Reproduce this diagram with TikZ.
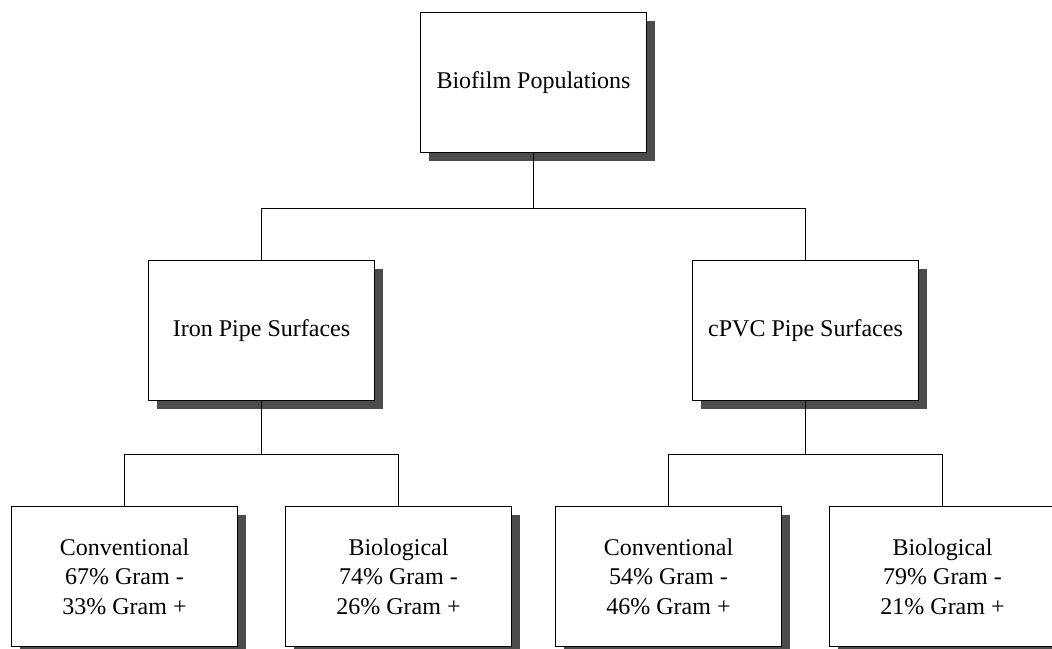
\documentclass[tikz,border=0pt]{standalone}
\usepackage{fontspec}
\setmainfont{Liberation Serif}
\usetikzlibrary{positioning,shadows}

\newcommand\boxfont{\fontsize{12}{14.8}\selectfont}

\begin{document}
\begin{tikzpicture}[x=0.5pt,y=-0.5pt,on grid,
    box/.style={draw,line width=0.8pt,fill=white,align=center,font=\boxfont,
      minimum width=113pt,minimum height=70pt,
      drop shadow={shadow xshift=4pt,shadow yshift=-4pt,fill=black!70,opacity=1}},
    link/.style={draw,line width=0.7pt}]
   \useasboundingbox (0,0) rectangle (1052,648);
   \clip (0,0) rectangle (1052,648);

   \node[box] (bio) at (533.5,82.5) {Biofilm Populations};
   \node[box] (iron) [below left=124pt and 136pt of bio] {Iron Pipe Surfaces};
   \node[box] (cpvc) [below right=124pt and 136pt of bio] {cPVC Pipe Surfaces};

   \node[box] (iron_conv) [below left=123pt and 68.5pt of iron] {Conventional\\67\% Gram -\\33\% Gram +};
   \node[box] (iron_bio) [below right=123pt and 68.5pt of iron] {Biological\\74\% Gram -\\26\% Gram +};
   \node[box] (cpvc_conv) [below left=123pt and 68.5pt of cpvc] {Conventional\\54\% Gram -\\46\% Gram +};
   \node[box] (cpvc_bio) [below right=123pt and 68.5pt of cpvc] {Biological\\79\% Gram -\\21\% Gram +};

   % tree connectors
   \coordinate[below=27.5pt of bio.south] (bio_split);
   \coordinate[below=26.5pt of iron.south] (iron_split);
   \coordinate[below=26.5pt of cpvc.south] (cpvc_split);
   \path[link]
    (bio.south) -- (bio_split) -| (iron.north)
    (bio_split) -| (cpvc.north)
    (iron.south) -- (iron_split) -| (iron_conv.north)
    (iron_split) -| (iron_bio.north)
    (cpvc.south) -- (cpvc_split) -| (cpvc_conv.north)
    (cpvc_split) -| (cpvc_bio.north);
\end{tikzpicture}
\end{document}
